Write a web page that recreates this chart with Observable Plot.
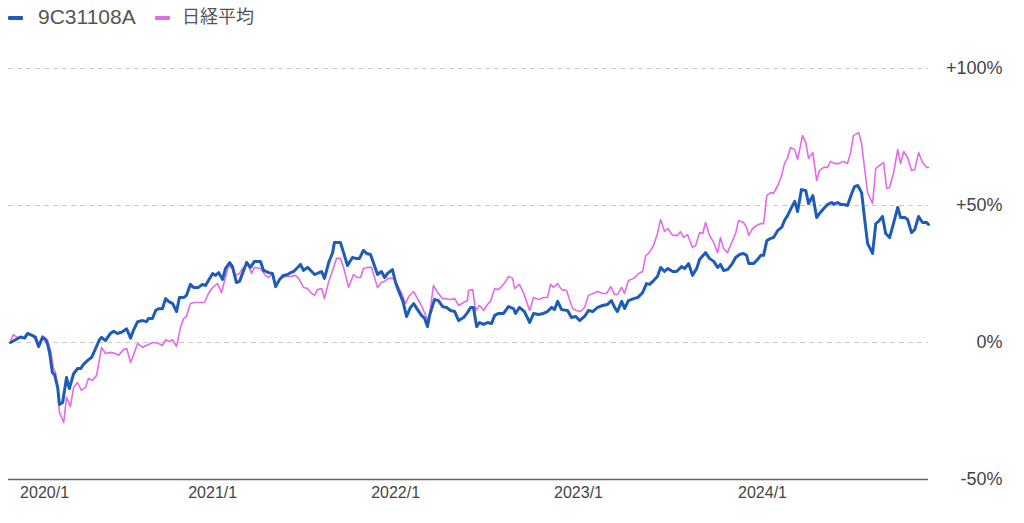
<!DOCTYPE html>
<html>
<head>
<meta charset="utf-8">
<script src="https://cdn.jsdelivr.net/npm/d3@7"></script>
<script src="https://cdn.jsdelivr.net/npm/@observablehq/plot@0.6"></script>
<style>
  html, body { margin: 0; padding: 0; background: #fff; }
  body { width: 1024px; height: 523px; overflow: hidden; font-family: "Liberation Sans", Arial, "Noto Sans CJK JP", sans-serif; }
  #legend { position: relative; height: 36px; width: 1024px; }
  #legend .sw { position: absolute; top: 16px; width: 15px; height: 4px; border-radius: 1px; }
  #legend .lb { position: absolute; top: 6px; color: #555; line-height: 22px; font-family: "Liberation Sans", Arial, "Noto Sans CJK JP", sans-serif; }
  svg { display: block; }
</style>
</head>
<body>
<div id="legend"></div>
<div id="chart"></div>
<script>
// Series names and colours
const seriesNames = ["9C31108A", "日経平均"];
const seriesColors = ["#1f5cb8", "#e46ae8"];

// Weekly index (0 = late Oct 2019) and cumulative return (%) — fund 9C31108A
const fund = [
[0.6,0],[2.0,1.0],[3.4,2.0],[4.5,1.6],[5.4,3.3],[7.1,2.3],[7.6,2.0],[8.5,-1.5],[9.6,1.8],[10.5,1.0],[11.0,-0.4],[11.6,-3.6],[12.4,-11],[13.0,-11.7],[13.9,-16.4],[14.4,-22.6],[15.3,-21.9],[16.4,-12.8],[17.2,-16.8],[18.4,-11.4],[19.5,-9.5],[20.4,-9.5],[21.2,-8],[22.3,-6.6],[23.5,-5.4],[24.6,-2.2],[25.7,1.0],[26.3,1.9],[27.4,0.7],[28.8,3.3],[29.7,4.1],[30.8,3.3],[32.2,3.9],[33.4,5.0],[34.5,1.6],[35.3,4.4],[36.5,7.6],[37.9,8.0],[39.0,7.6],[39.6,8.8],[40.7,8.8],[41.6,11.7],[42.4,12.3],[43.5,12.3],[44.4,16.0],[45.2,15.0],[46.4,14.2],[47.5,11.3],[48.3,16.4],[49.5,16.4],[50.3,17.2],[51.4,21.2],[52.3,20.1],[53.7,20.1],[54.8,21.2],[55.7,20.8],[56.5,22.6],[57.7,25.2],[58.5,24.5],[59.4,25.5],[60.5,23.0],[61.3,27.0],[62.5,29.2],[63.3,27.7],[64.4,21.9],[65.3,22.3],
[67.3,29.2],[68.4,27.4],[69.5,29.6],[71.2,29.6],[72.1,26.3],[73.5,25.5],[74.6,25.2],[75.5,20.4],[76.6,23.0],[77.7,24.5],[78.9,24.8],[79.7,25.5],[80.6,25.9],[81.7,27.4],[82.5,28.5],[83.4,26.3],[84.5,27.4],[85.4,26.3],[86.5,24.8],[87.3,25.2],[88.5,25.9],[89.3,23.4],[90.5,29.2],[91.6,32.8],[92.1,36.5],[93.8,36.5],[94.7,32.8],[95.8,28.1],[97.2,31.0],[98.1,30.7],[99.2,30.7],[100.3,33.6],[101.2,32.5],[102.3,32.1],[103.2,28.8],[104.3,24.8],[105.4,25.9],[106.3,23.7],[107.1,25.2],[108.5,26.6],[109.4,21.9],[110.2,19.0],[111.4,15.3],[112.5,9.5],[113.6,12.8],[114.5,14.2],[115.6,12.0],[116.7,9.9],[117.6,8.8],[118.4,5.8],[119.0,9.9],[120.4,15.7],[121.5,15.3],[122.7,13.1],[123.8,12.8],[124.9,11.7],[126.1,11.3],[127.2,8.0],[128.6,9.1],[129.7,10.9],[130.6,12.8],
[131.4,12.8],[132.3,5.8],[133.1,7.3],[134.3,6.6],[135.4,7.3],[136.5,6.9],[137.4,9.9],[138.5,10.6],[139.9,10.6],[141.3,13.1],[142.7,12.4],[143.3,10.6],[144.4,12.8],[145.8,11.3],[147.3,7.3],[148.4,10.6],[149.8,10.2],[151.2,10.6],[152.3,11.3],[153.5,12.8],[154.3,12.0],[155.2,15.0],[156.3,12.0],[158.0,11.7],[159.1,9.1],[160.3,9.5],[161.4,8.0],[162.8,9.5],[163.9,11.7],[165.1,11.3],[166.5,12.8],[167.9,13.5],[169.3,13.9],[170.4,15.3],[171.3,12.8],[172.1,11.3],[173.3,15.0],[174.1,12.4],[175.2,15.3],[176.7,16.0],[177.8,16.4],[179.2,18.2],[180.3,21.5],[181.2,21.2],[182.3,22.6],[183.4,24.1],[184.3,27.4],[185.4,25.9],[186.3,27.0],[187.7,25.9],[188.8,25.9],[190.2,27.7],[191.1,27.0],[192.2,28.8],[193.3,24.5],[194.5,27.0],[195.3,30.3],
[197.0,32.8],[198.1,30.7],[199.3,29.6],[200.4,27.4],[201.2,28.5],[202.1,26.3],[203.2,26.6],[204.4,28.5],[205.5,31.0],[206.6,32.1],[207.7,32.5],[208.6,31.8],[209.2,28.8],[210.6,28.8],[211.7,30.3],[212.6,31.8],[213.4,31.8],[214.3,37.2],[215.4,38.0],[216.2,38.3],[217.4,40.9],[218.5,42.0],[219.3,44.5],[220.2,46.4],[221.3,49.3],[222.2,51.5],[223.0,47.8],[224.1,55.8],[225.3,55.5],[226.1,50.7],[227.3,53.6],[228.4,45.6],[229.2,47.1],[230.4,48.9],[231.5,50.4],[232.6,51.1],[233.2,50.4],[234.3,51.1],[235.2,50.4],[236.0,50.4],[237.1,50.0],[238.3,54.4],[239.1,56.9],[240.0,57.3],[241.1,54.7],[241.9,45.6],[242.8,36.1],[244.2,32.5],[245.1,43.4],[245.9,44.2],[247.0,46.0],[247.9,39.8],[249.0,38.3],[250.1,43.4],[251.3,49.3],[252.1,45.6],[253.3,45.6],[254.1,44.9],[255.2,40.1],[256.1,41.2],[257.2,46.0],[258.3,43.8],[259.5,43.8],[260,43.1]
];

// Weekly index and cumulative return (%) — Nikkei 225
const nikkei = [
[0.6,0.7],[1.4,2.9],[2.5,1.8],[3.4,2.0],[4.8,1.5],[5.7,3.3],[7.1,2.0],[8.5,-1.0],[9.6,2.5],[11.0,1.0],[11.9,-3.0],[12.7,-9.5],[13.3,-11.0],[13.9,-17.5],[14.4,-25.5],[15.6,-29.2],[16.4,-20.0],[17.5,-23.4],[18.4,-16.4],[19.5,-14.6],[20.6,-17.5],[21.8,-16.4],[22.6,-13.1],[23.7,-13.9],[24.9,-12.0],[26.3,-1.8],[27.4,-4.0],[28.8,-3.6],[30.2,-4.0],[31.1,-4.7],[32.5,-2.6],[33.4,-2.2],[34.5,-7.3],[35.3,-4.7],[36.5,-0.4],[37.9,-1.8],[39.0,-1.1],[40.7,0],[42.1,-0.2],[43.5,-1.1],[44.4,1.0],[45.2,0.4],[46.4,1.0],[47.5,-1.5],[48.6,5.5],[49.5,8.8],[50.3,9.5],[51.4,14.2],[52.6,14.6],[54.3,14.6],[55.4,14.6],[56.5,17.9],[57.7,20.1],[59.1,21.5],[60.2,18.2],[61.3,23.7],[62.2,28.1],[63.3,27.0],[64.2,24.5],[65.3,25.2],
[66.1,27.0],[67.6,28.5],[68.7,25.2],[69.5,27.4],[71.2,27.0],[72.6,24.5],[73.5,23.7],[74.6,25.2],[75.5,20.8],[76.9,23.4],[78.3,24.1],[79.7,24.1],[81.1,24.5],[82.0,23.4],[83.4,20.1],[84.5,19.7],[85.4,18.2],[86.5,17.2],[87.3,19.3],[88.5,19.7],[89.3,16.0],[90.5,22.3],[91.6,26.3],[92.7,30.7],[93.8,30.7],[94.7,27.4],[96.1,20.1],[97.5,24.8],[98.6,23.7],[99.5,23.7],[100.3,27.0],[101.5,27.4],[102.6,27.4],[103.5,23.4],[104.3,20.1],[105.4,21.9],[106.3,22.3],[107.4,23.4],[108.8,23.4],[110.0,20.8],[111.1,17.9],[112.2,14.2],[113.1,16.8],[114.5,18.6],[115.6,16.0],[116.7,13.5],[117.9,9.9],[118.7,7.3],[120.1,20.8],[121.3,18.2],[122.7,16.0],[123.8,16.0],[124.9,15.7],[126.1,16.0],[127.2,13.5],[128.6,14.6],[129.7,15.3],
[130.0,19.0],[131.2,19.3],[132.0,11.7],[133.1,13.5],[134.3,11.7],[135.4,13.9],[136.2,15.0],[137.4,19.7],[138.5,19.3],[139.6,20.8],[140.5,22.3],[141.3,24.1],[142.5,23.4],[143.0,19.7],[144.4,21.2],[145.6,17.9],[147.3,11.7],[148.4,16.4],[149.8,15.7],[151.2,16.4],[152.3,16.4],[153.2,21.2],[154.0,20.1],[155.2,21.5],[156.3,19.3],[157.7,19.0],[159.4,12.4],[160.5,11.7],[161.7,11.3],[162.8,12.8],[163.9,17.2],[165.3,17.9],[166.5,18.6],[167.9,17.9],[169.0,17.9],[170.2,20.4],[171.3,17.5],[172.1,17.5],[173.3,20.1],[174.1,17.9],[175.2,22.6],[176.7,23.4],[178.1,25.2],[179.2,25.9],[180.1,31.8],[180.9,32.5],[182.3,35.4],[183.4,39.8],[184.3,44.9],[185.4,40.5],[186.3,41.6],[187.7,39.1],[189.1,39.1],[189.9,40.5],[190.8,38.3],[191.9,39.4],[193.3,34.7],[194.2,35.4],[195.3,40.1],
[196.2,39.8],[197.0,43.8],[198.1,39.1],[199.3,36.5],[200.4,32.8],[201.2,38.3],[202.1,34.3],[203.2,32.8],[204.4,36.5],[205.5,39.8],[206.3,44.5],[207.7,43.8],[208.6,42.0],[209.2,39.1],[210.3,41.6],[211.4,42.7],[212.6,43.4],[213.4,43.4],[214.3,53.6],[215.4,54.7],[216.2,54.4],[217.4,57.3],[218.5,60.9],[219.3,65.3],[220.2,67.5],[221.0,71.2],[222.2,70.4],[223.0,66.8],[224.4,75.5],[225.3,73.0],[226.1,67.2],[227.3,69.3],[228.4,59.1],[229.2,62.8],[230.4,63.9],[231.5,63.9],[232.3,66.1],[233.5,65.3],[234.6,65.3],[236.0,66.1],[237.1,65.3],[238.0,69.3],[238.8,75.5],[240.3,76.6],[241.1,72.6],[241.9,63.9],[242.8,54.7],[244.2,50.7],[245.1,63.5],[246.2,64.6],[247.3,65.7],[248.2,56.2],[249.0,56.6],[250.1,61.7],[251.3,70.4],[252.1,65.3],[253.0,69.7],[254.1,67.5],[255.2,62.8],[256.1,63.1],[257.2,69.3],[258.3,65.7],[259.5,63.9],[260,63.9]
];

// Axis ticks
const xTickWeeks = [10.2, 57.7, 109.4, 161.1, 213.1];
const xTickLabels = ["2020/1", "2021/1", "2022/1", "2023/1", "2024/1"];
const yGridValues = [0, 50, 100];
const yTickValues = [100, 50, 0, -50];
const yTickLabels = ["+100%", "+50%", "0%", "-50%"];

// Legend
const legend = document.getElementById("legend");
const legendPos = [{sw: 8, lb: 38, fs: 21}, {sw: 155, lb: 182, fs: 18}];
seriesNames.forEach((name, i) => {
  const sw = document.createElement("div");
  sw.className = "sw";
  sw.style.left = legendPos[i].sw + "px";
  sw.style.background = seriesColors[i];
  legend.appendChild(sw);
  const lb = document.createElement("div");
  lb.className = "lb";
  lb.style.left = legendPos[i].lb + "px";
  lb.style.fontSize = legendPos[i].fs + "px";
  lb.textContent = name;
  legend.appendChild(lb);
});

const fundData = fund.map(([w, v]) => ({w, v}));
const nikkeiData = nikkei.map(([w, v]) => ({w, v}));
const xTicks = xTickWeeks.map((w, i) => ({w, label: xTickLabels[i]}));
const yTicks = yTickValues.map((v, i) => ({v, label: yTickLabels[i]}));

const chart = Plot.plot({
  width: 1024,
  height: 487,
  marginLeft: 8,
  marginRight: 96,
  marginTop: 32,
  marginBottom: 44,
  style: {fontFamily: "'Liberation Sans', Arial, sans-serif", background: "#fff"},
  x: {domain: [0, 260], axis: null},
  y: {domain: [-50, 100], axis: null},
  marks: [
    Plot.ruleY(yGridValues, {stroke: "#c8c8c8", strokeWidth: 1, strokeDasharray: "5,4", x1: 0, x2: 260}),
    Plot.ruleY([-50], {stroke: "#666", strokeWidth: 1.5, x1: 0, x2: 260}),
    Plot.line(nikkeiData, {x: "w", y: "v", stroke: seriesColors[1], strokeWidth: 1.6, curve: "linear"}),
    Plot.line(fundData, {x: "w", y: "v", stroke: seriesColors[0], strokeWidth: 3, curve: "linear", strokeLinejoin: "round"}),
    Plot.text(yTicks, {y: "v", text: "label", frameAnchor: "right", textAnchor: "end", dx: 74, fontSize: 18, fill: "#444"}),
    Plot.text(xTicks, {x: "w", text: "label", frameAnchor: "bottom", dy: 18, fontSize: 16, fill: "#444"})
  ]
});
document.getElementById("chart").appendChild(chart);
</script>
</body>
</html>
